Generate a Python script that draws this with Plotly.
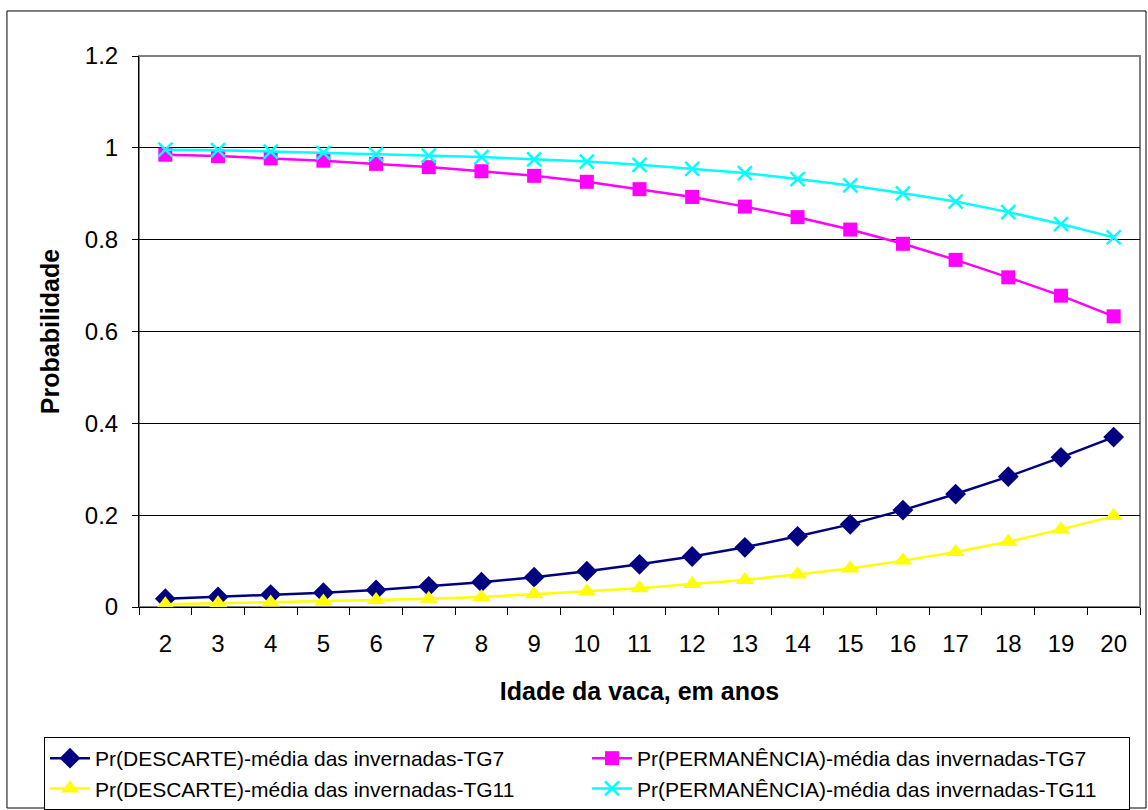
import plotly.graph_objects as go

# Idade da vaca (anos)
idades = [str(i) for i in range(2, 21)]

descarte_tg7 = [0.018, 0.022, 0.027, 0.031, 0.037, 0.045, 0.054, 0.065, 0.078,
                0.093, 0.110, 0.130, 0.154, 0.180, 0.211, 0.246, 0.284, 0.326, 0.370]
permanencia_tg7 = [0.985, 0.982, 0.977, 0.972, 0.965, 0.958, 0.949, 0.939, 0.926,
                   0.910, 0.893, 0.872, 0.849, 0.822, 0.791, 0.756, 0.718, 0.678, 0.633]
descarte_tg11 = [0.006, 0.008, 0.010, 0.012, 0.015, 0.018, 0.022, 0.028, 0.034,
                 0.041, 0.050, 0.059, 0.071, 0.084, 0.101, 0.120, 0.142, 0.169, 0.198]
permanencia_tg11 = [0.996, 0.995, 0.992, 0.989, 0.986, 0.983, 0.980, 0.975, 0.970,
                    0.963, 0.954, 0.945, 0.932, 0.918, 0.901, 0.883, 0.860, 0.834, 0.805]

y_ticks = [0, 0.2, 0.4, 0.6, 0.8, 1.0, 1.2]
y_tick_labels = ["0", "0.2", "0.4", "0.6", "0.8", "1", "1.2"]

FONT = "Arial, 'Liberation Sans', sans-serif"

fig = go.Figure()
fig.add_trace(go.Scatter(
    x=idades, y=descarte_tg7, mode="lines+markers",
    name="Pr(DESCARTE)-média das invernadas-TG7",
    line=dict(color="#000080", width=2.5),
    marker=dict(symbol="diamond", size=16, color="#000080")))
fig.add_trace(go.Scatter(
    x=idades, y=permanencia_tg7, mode="lines+markers",
    name="Pr(PERMANÊNCIA)-média das invernadas-TG7",
    line=dict(color="#FF00FF", width=2.5),
    marker=dict(symbol="square", size=14, color="#FF00FF")))
fig.add_trace(go.Scatter(
    x=idades, y=descarte_tg11, mode="lines+markers",
    name="Pr(DESCARTE)-média das invernadas-TG11",
    line=dict(color="#FFFF00", width=2.5),
    marker=dict(symbol="triangle-up", size=16, color="#FFFF00")))
fig.add_trace(go.Scatter(
    x=idades, y=permanencia_tg11, mode="lines+markers",
    name="Pr(PERMANÊNCIA)-média das invernadas-TG11",
    line=dict(color="#00FFFF", width=2.5),
    marker=dict(symbol="x-thin", size=14, color="#00FFFF",
                line=dict(width=2.5, color="#00FFFF"))))

fig.update_layout(
    width=1148, height=810,
    margin=dict(l=139, r=8, t=56, b=203, autoexpand=False),
    paper_bgcolor="white", plot_bgcolor="white",
    font=dict(family=FONT, color="black", size=24),
    showlegend=True,
    legend=dict(
        orientation="h", x=-0.0949, y=-0.236, xanchor="left", yanchor="top",
        entrywidth=487, entrywidthmode="pixels",
        bordercolor="black", borderwidth=1, bgcolor="white",
        font=dict(family=FONT, size=21, color="black"),
        tracegroupgap=0, itemwidth=40,
    ),
    shapes=[
        # moldura externa do gráfico
        dict(type="rect", xref="paper", yref="paper",
             x0=-0.1319, x1=1.006, y0=-0.3648, y1=1.0817,
             line=dict(color="black", width=1), layer="below"),
        # borda da área de plotagem
        dict(type="rect", xref="paper", yref="paper",
             x0=0, x1=1, y0=0, y1=1,
             line=dict(color="#808080", width=2), layer="below"),
    ],
)

fig.update_xaxes(
    type="category", tickson="boundaries", range=[-0.5, len(idades) - 0.5],
    showline=True, linecolor="black", linewidth=1,
    ticks="outside", ticklen=7, tickcolor="black", tickwidth=1,
    ticklabelstandoff=15,
    showgrid=False, zeroline=False,
    tickfont=dict(size=24, family=FONT),
    title=dict(text="<b>Idade da vaca, em anos</b>",
               font=dict(size=25, family=FONT), standoff=26),
)
fig.update_yaxes(
    range=[0, 1.2], tickvals=y_ticks, ticktext=y_tick_labels,
    showline=True, linecolor="black", linewidth=1,
    ticks="outside", ticklen=6, tickcolor="black", tickwidth=1,
    ticklabelstandoff=9,
    showgrid=True, gridcolor="black", gridwidth=1, zeroline=False,
    tickfont=dict(size=24, family=FONT),
    title=dict(text="<b>Probabilidade</b>",
               font=dict(size=25, family=FONT), standoff=18),
)

fig.write_html("out.html")
